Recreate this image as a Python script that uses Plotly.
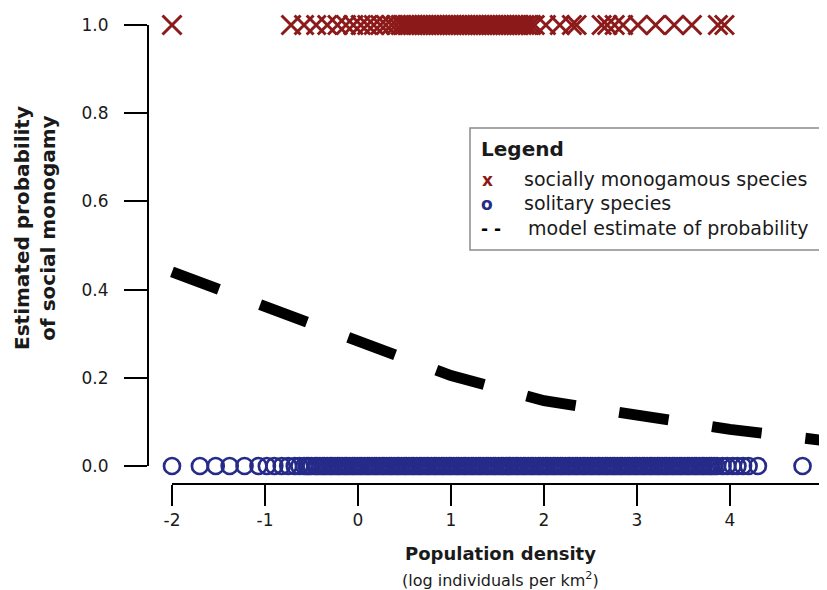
import plotly.graph_objects as go

# ---------------- data ----------------
mono_x = [-2.00, -0.72, -0.58, -0.45, -0.33, -0.22, -0.13, -0.05, 0.03, 0.10,
          0.17, 0.24, 0.30, 0.36, 0.41, 0.46,
          0.50, 0.53, 0.56, 0.59, 0.62, 0.65, 0.68, 0.71, 0.74, 0.77,
          0.80, 0.83, 0.86, 0.89, 0.92, 0.95, 0.98, 1.01, 1.04, 1.07,
          1.10, 1.13, 1.16, 1.19, 1.22, 1.25, 1.28, 1.31, 1.34, 1.37,
          1.40, 1.43, 1.46, 1.49, 1.52, 1.55, 1.58, 1.61, 1.64, 1.67,
          1.70, 1.73, 1.76, 1.79, 1.82, 1.86, 1.90,
          2.02, 2.17, 2.30, 2.35, 2.62, 2.68, 2.76, 2.85, 3.01,
          3.20, 3.40, 3.59, 3.87, 3.94]
mono_y = [1.0] * len(mono_x)

soli_x = [-2.00, -1.70, -1.53, -1.38, -1.22, -1.07, -0.98, -0.90, -0.82, -0.75,
          -0.68, -0.63,
          -0.58, -0.55, -0.53, -0.50, -0.46, -0.44, -0.41, -0.38, -0.36, -0.33,
          -0.30, -0.28, -0.25, -0.22, -0.20, -0.17, -0.14, -0.12, -0.09, -0.06,
          -0.04, -0.01, 0.02, 0.04, 0.07, 0.10, 0.12, 0.15, 0.18, 0.20,
          0.23, 0.26, 0.28, 0.31, 0.34, 0.36, 0.39, 0.42, 0.44, 0.47,
          0.50, 0.52, 0.55, 0.58, 0.60, 0.63, 0.66, 0.68, 0.71, 0.74,
          0.76, 0.79, 0.82, 0.84, 0.87, 0.90, 0.92, 0.95, 0.98, 1.00,
          1.03, 1.06, 1.08, 1.11, 1.14, 1.16, 1.19, 1.22, 1.24, 1.27,
          1.30, 1.32, 1.35, 1.38, 1.40, 1.43, 1.46, 1.48, 1.51, 1.54,
          1.56, 1.59, 1.62, 1.64, 1.67, 1.70, 1.72, 1.75, 1.78, 1.80,
          1.83, 1.86, 1.88, 1.91, 1.94, 1.96, 1.99, 2.02, 2.04, 2.07,
          2.10, 2.12, 2.15, 2.18, 2.20, 2.23, 2.26, 2.28, 2.31, 2.34,
          2.36, 2.39, 2.42, 2.44, 2.47, 2.50, 2.52, 2.55, 2.58, 2.60,
          2.63, 2.66, 2.68, 2.71, 2.74, 2.76, 2.79, 2.82, 2.84, 2.87,
          2.90, 2.92, 2.95, 2.98, 3.00, 3.03, 3.06, 3.08, 3.11, 3.14,
          3.16, 3.19, 3.22, 3.24, 3.27, 3.30, 3.32, 3.35, 3.38, 3.40,
          3.43, 3.46, 3.48, 3.51, 3.54, 3.56, 3.59, 3.62, 3.64, 3.67,
          3.70, 3.72, 3.75, 3.78, 3.80, 3.83, 3.86,
          3.92, 3.97, 4.03, 4.08, 4.14, 4.20, 4.30, 4.78]
soli_y = [0.0] * len(soli_x)

curve_x = [-2, -1, 0, 1, 2, 3, 4, 5]
curve_y = [0.44, 0.36, 0.28, 0.205, 0.148, 0.114, 0.083, 0.058]

x_ticks = [-2, -1, 0, 1, 2, 3, 4, 5]
y_ticks = [0.0, 0.2, 0.4, 0.6, 0.8, 1.0]
y_tick_labels = ["0.0", "0.2", "0.4", "0.6", "0.8", "1.0"]

# ---------------- style ----------------
# page coordinates of the plot area (the page body adds an 8px offset)
OFF = 8
PAGE_W, PAGE_H = 827, 590
W, H = PAGE_W - OFF, PAGE_H - OFF
PL, PT, PB, PR = 148, 8, 484, 827          # plot area in page pixels
ML, MT = PL - OFF, PT - OFF
MB = H - (PB - OFF)
MR = W - (PR - OFF)
PW, PH = PR - PL, PB - PT
FONT = "DejaVu Sans, Arial, sans-serif"
RED = "#8c1a1a"
NAVY = "#262a88"
TXT = "#1a1a1a"


def xp(px):
    return (px - PL) / PW


def yp(py):
    return (PB - py) / PH


fig = go.Figure()

fig.add_trace(go.Scatter(
    x=soli_x, y=soli_y, mode="markers",
    marker=dict(symbol="circle-open", size=16, color=NAVY,
                line=dict(width=2.7, color=NAVY)),
    showlegend=False, cliponaxis=False))

fig.add_trace(go.Scatter(
    x=mono_x, y=mono_y, mode="markers",
    marker=dict(symbol="x-thin-open", size=19, color=RED,
                line=dict(width=3, color=RED)),
    showlegend=False, cliponaxis=False))

fig.add_trace(go.Scatter(
    x=curve_x, y=curve_y, mode="lines",
    line=dict(color="black", width=11, dash="50px,44px"),
    showlegend=False))

# axis lines (R style, detached)
fig.add_shape(type="line", xref="paper", yref="y", x0=0, x1=0,
              y0=y_ticks[0], y1=y_ticks[-1], line=dict(color="black", width=2))
fig.add_shape(type="line", xref="x", yref="paper", x0=x_ticks[0], x1=x_ticks[-1],
              y0=0, y1=0, line=dict(color="black", width=2))

# legend box
fig.add_shape(type="rect", xref="paper", yref="paper",
              x0=xp(470), x1=xp(835), y0=yp(250), y1=yp(128),
              line=dict(color="#8a8a8a", width=1.5), fillcolor="white", layer="below")

ann = []
ann.append(dict(text="<b>Legend</b>", x=xp(479), y=yp(149), xanchor="left", yanchor="middle",
                font=dict(size=20, color=TXT, family=FONT)))
ann.append(dict(text="<b>x</b>", x=xp(487), y=yp(180), xanchor="center", yanchor="middle",
                font=dict(size=17, color=RED, family=FONT)))
ann.append(dict(text="socially monogamous species", x=xp(522), y=yp(179), xanchor="left",
                yanchor="middle", font=dict(size=19, color=TXT, family=FONT)))
ann.append(dict(text="<b>o</b>", x=xp(487), y=yp(204), xanchor="center", yanchor="middle",
                font=dict(size=17, color=NAVY, family=FONT)))
ann.append(dict(text="solitary species", x=xp(522), y=yp(203), xanchor="left",
                yanchor="middle", font=dict(size=19, color=TXT, family=FONT)))
ann.append(dict(text="<b>- -</b>", x=xp(491), y=yp(229), xanchor="center", yanchor="middle",
                font=dict(size=17, color="black", family=FONT)))
ann.append(dict(text="model estimate of probability", x=xp(526), y=yp(228), xanchor="left",
                yanchor="middle", font=dict(size=19, color=TXT, family=FONT)))

# axis titles
ann.append(dict(text="<b>Population density</b>", x=xp(500), y=yp(553), xanchor="center",
                yanchor="middle", font=dict(size=18, color=TXT, family=FONT)))
ann.append(dict(text="(log individuals per km<sup>2</sup>)", x=xp(500), y=yp(579),
                xanchor="center", yanchor="middle", font=dict(size=16, color=TXT, family=FONT)))
ann.append(dict(text="<b>Estimated probability<br>of social monogamy</b>", x=xp(35), y=yp(228),
                xanchor="center", yanchor="middle", textangle=-90,
                font=dict(size=20, color=TXT, family=FONT)))

for a in ann:
    a.update(xref="paper", yref="paper", showarrow=False)

fig.update_layout(
    width=W, height=H,
    margin=dict(l=ML, r=MR, t=MT, b=MB, pad=0),
    paper_bgcolor="white", plot_bgcolor="white",
    annotations=ann,
    font=dict(family=FONT, color=TXT),
    xaxis=dict(range=[-2 - (172 - PL) / 93, -2 + (PR - 172) / 93],
               tickmode="array", tickvals=x_ticks,
               ticktext=[str(v) for v in x_ticks],
               ticks="outside", ticklen=21, tickwidth=2, tickcolor="black",
               showline=False, showgrid=False, zeroline=False,
               tickfont=dict(size=17, color=TXT, family=FONT)),
    yaxis=dict(range=[-(PB - 466) / 441, 1 + (25 - PT) / 441],
               tickmode="array", tickvals=y_ticks,
               ticktext=y_tick_labels,
               ticks="outside", ticklen=23, tickwidth=2, tickcolor="black",
               showline=False, showgrid=False, zeroline=False,
               ticklabelstandoff=12,
               tickfont=dict(size=17, color=TXT, family=FONT)),
)

fig.write_html("out.html")
